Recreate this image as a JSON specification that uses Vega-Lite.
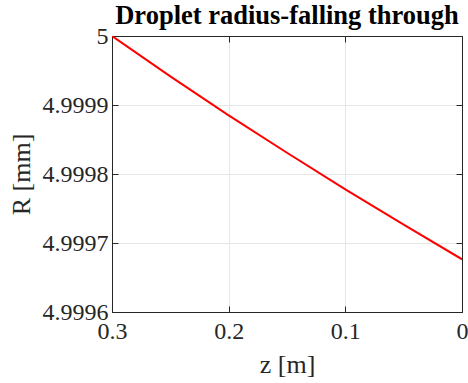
{
  "$schema": "https://vega.github.io/schema/vega-lite/v6.json",
  "autosize": {"type": "none"},
  "width": 350,
  "height": 276,
  "padding": {"left": 112, "top": 36, "right": 6, "bottom": 71},
  "background": "white",
  "title": {
    "text": "Droplet radius-falling through",
    "font": "Liberation Serif",
    "fontSize": 26.5,
    "fontWeight": "bold",
    "color": "black",
    "anchor": "middle",
    "offset": -5
  },
  "config": {
    "view": {"stroke": "#262626", "strokeWidth": 1},
    "axis": {
      "labelFont": "Liberation Serif",
      "titleFont": "Liberation Serif",
      "labelColor": "#262626",
      "titleColor": "#262626",
      "titleFontWeight": "normal",
      "domainColor": "#262626",
      "tickColor": "#262626",
      "gridColor": "#e6e6e6",
      "gridWidth": 1
    }
  },
  "data": {
    "values": [
      {"z": 0.3, "R": 5.0},
      {"z": 0.25, "R": 4.9999415},
      {"z": 0.2, "R": 4.9998849},
      {"z": 0.15, "R": 4.9998308},
      {"z": 0.1, "R": 4.9997778},
      {"z": 0.05, "R": 4.9997266},
      {"z": 0.0, "R": 4.9996764}
    ]
  },
  "encoding": {
    "x": {
      "field": "z",
      "type": "quantitative",
      "scale": {"domain": [0, 0.3], "reverse": true, "nice": false, "zero": false}
    },
    "y": {
      "field": "R",
      "type": "quantitative",
      "scale": {"domain": [4.9996, 5.0], "nice": false, "zero": false}
    }
  },
  "layer": [
    {
      "mark": {"type": "line", "color": "#ff0000", "strokeWidth": 2, "clip": true},
      "encoding": {
        "x": {
          "field": "z",
          "type": "quantitative",
          "title": "z [m]",
          "axis": {
            "orient": "bottom",
            "values": [0, 0.1, 0.2, 0.3],
            "format": "~g",
            "labelFontSize": 24,
            "titleFontSize": 26,
            "tickSize": -6,
            "labelPadding": 13,
            "titlePadding": 8,
            "grid": true,
            "labelFlush": false,
            "labelOverlap": false
          }
        },
        "y": {
          "field": "R",
          "type": "quantitative",
          "title": "R [mm]",
          "axis": {
            "orient": "left",
            "values": [4.9996, 4.9997, 4.9998, 4.9999, 5.0],
            "format": "~g",
            "labelFontSize": 24,
            "titleFontSize": 26,
            "tickSize": -6,
            "labelPadding": 10,
            "titlePadding": 8,
            "grid": true,
            "labelFlush": false,
            "labelOverlap": false
          }
        }
      }
    },
    {
      "mark": {"type": "line", "opacity": 0},
      "encoding": {
        "x": {
          "field": "z",
          "type": "quantitative",
          "axis": {
            "orient": "top",
            "values": [0, 0.1, 0.2, 0.3],
            "labels": false,
            "title": null,
            "tickSize": -6,
            "grid": false
          }
        },
        "y": {
          "field": "R",
          "type": "quantitative",
          "axis": {
            "orient": "right",
            "values": [4.9996, 4.9997, 4.9998, 4.9999, 5.0],
            "labels": false,
            "title": null,
            "tickSize": -6,
            "grid": false
          }
        }
      }
    }
  ],
  "resolve": {"axis": {"x": "independent", "y": "independent"}}
}
